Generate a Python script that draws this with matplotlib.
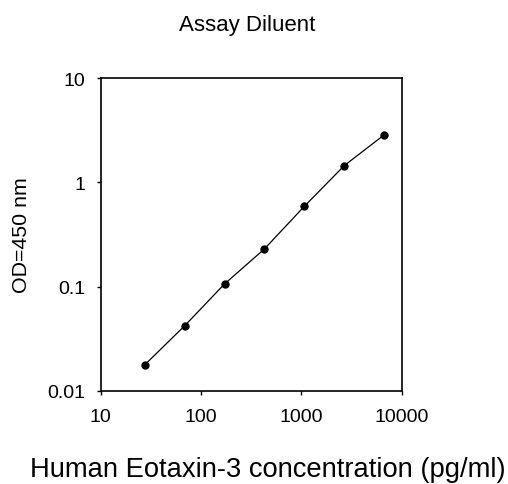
import matplotlib
matplotlib.use("Agg")
from matplotlib import pyplot as plt
from matplotlib.ticker import FixedLocator, NullLocator

plt.rcParams['font.family'] = ['Liberation Sans', 'DejaVu Sans']

# standard curve
conc = [27.4, 68.6, 171.5, 428.7, 1071.8, 2679.5, 6698.8]
od = [0.0177, 0.042, 0.106, 0.230, 0.59, 1.45, 2.86]

x_ticks = [10, 100, 1000, 10000]
x_labels = ['10', '100', '1000', '10000']
y_ticks = [0.01, 0.1, 1, 10]
y_labels = ['0.01', '0.1', '1', '10']

fig = plt.figure(figsize=(5.08, 4.85), dpi=100)
ax = fig.add_axes([0.198, 0.192, 0.593, 0.645])
ax.plot(conc, od, color='black', lw=0.9, marker='o', markersize=5)
ax.set_xscale('log')
ax.set_yscale('log')
ax.set_xlim(10, 10000)
ax.set_ylim(0.01, 10)

ax.xaxis.set_major_locator(FixedLocator(x_ticks))
ax.yaxis.set_major_locator(FixedLocator(y_ticks))
ax.xaxis.set_minor_locator(NullLocator())
ax.yaxis.set_minor_locator(NullLocator())
ax.set_xticklabels(x_labels)
ax.set_yticklabels(y_labels)
ax.tick_params(direction='out', length=3, width=1, labelsize=14, colors='black')
ax.tick_params(axis='x', pad=9.5)
ax.tick_params(axis='y', pad=8)

for s in ax.spines.values():
    s.set_linewidth(1.2)

fig.text(0.486, 0.948, 'Assay Diluent', ha='center', va='center', fontsize=16)
fig.text(0.527, 0.03, 'Human Eotaxin-3 concentration (pg/ml)', ha='center', va='center', fontsize=19.7)
fig.text(0.043, 0.515, 'OD=450 nm', ha='center', va='center', rotation=90, fontsize=15.4)

fig.savefig('out.png', dpi=100)
